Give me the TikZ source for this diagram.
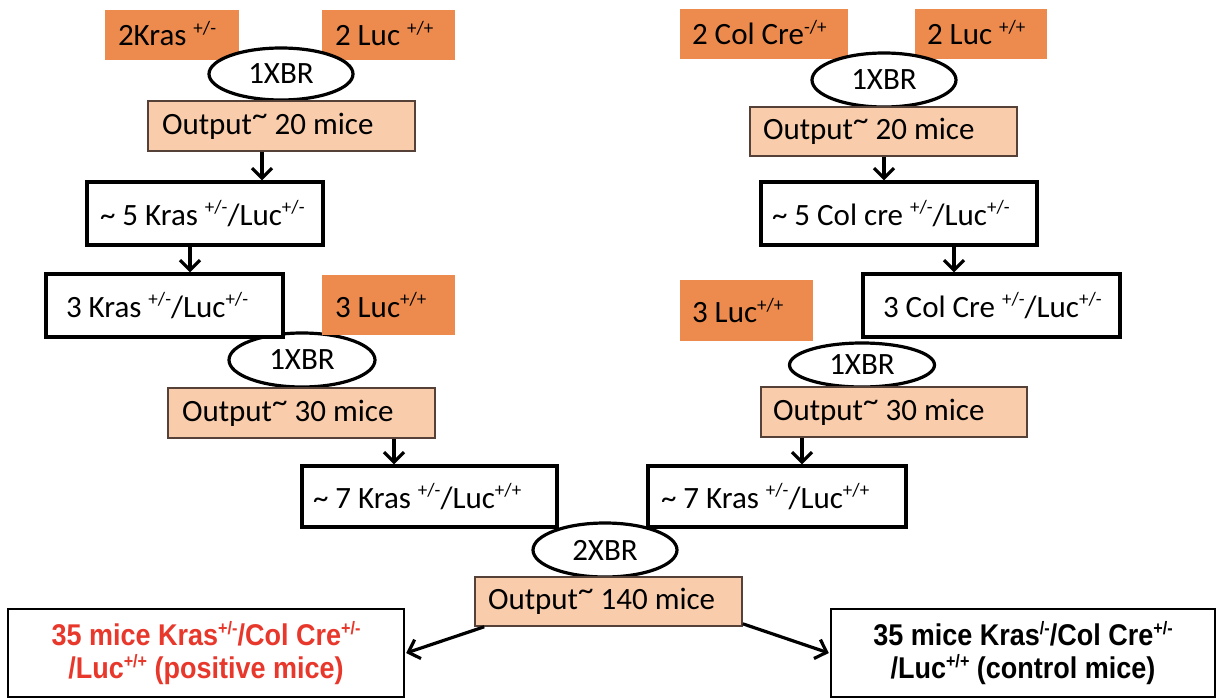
\documentclass[tikz,border=0pt]{standalone}
\usepackage{fontspec}
\setmainfont{Carlito}
\newfontfamily\arb[FakeStretch=0.9]{Liberation Sans}
\usetikzlibrary{arrows.meta,shapes.geometric}
\definecolor{orgD}{RGB}{237,139,78}
\definecolor{orgL}{RGB}{249,204,172}
\definecolor{outB}{RGB}{85,65,55}
\definecolor{redT}{RGB}{232,56,44}
\newcommand\supr[1]{\raisebox{0.36em}{\fontsize{19}{19}\selectfont #1}}
\newcommand\supb[1]{\raisebox{0.38em}{\fontsize{18}{18}\selectfont #1}}
\newcommand\tld{\raisebox{0.28em}{\textasciitilde}}
\newcommand\lbx[2]{\makebox[#1][l]{#2}}
\begin{document}
\begin{tikzpicture}[x=1pt,y=-1pt,
  font=\fontsize{31}{36}\selectfont,
  dark/.style={rectangle, fill=orgD, draw=none, inner ysep=0pt},
  light/.style={rectangle, fill=orgL, draw=outB, line width=1.6pt, inner ysep=0pt},
  wbox/.style={rectangle, fill=white, draw=black, line width=3.2pt, inner ysep=0pt},
  xbr/.style={ellipse, draw=black, fill=white, line width=3.2pt, inner sep=0pt},
  fbox/.style={rectangle, fill=white, draw=black, line width=2.4pt, align=center,
     font=\arb\bfseries\fontsize{30}{33}\selectfont},
  arr/.style={line width=3.2pt, -{Straight Barb[length=10pt,width=20pt]}}]
\fill[white] (0,0) rectangle (1216,698);
\useasboundingbox (0,0) rectangle (1216,698);

% ---------- left branch ----------
\node[dark, minimum width=134pt, minimum height=50pt, inner xsep=13pt] (kr2) at (172,35) {\lbx{108pt}{\raisebox{3pt}{2Kras \supr{+/-}}}};
\node[dark, minimum width=133pt, minimum height=50pt, inner xsep=13pt] (lu2L) at (388.5,35) {\lbx{107pt}{\raisebox{3pt}{2 Luc \supr{+/+}}}};
\node[xbr, minimum width=144pt, minimum height=52pt] (e1L) at (281,74) {1XBR};
\node[light, minimum width=267pt, minimum height=50pt, inner xsep=14pt] (o1L) at (281.5,126) {\lbx{239pt}{Output\tld{} 20 mice}};
\node[wbox, minimum width=236pt, minimum height=63pt, inner xsep=13pt] (k5) at (205,213.5) {\lbx{210pt}{\textasciitilde{} 5 Kras \supr{+/-}/Luc\supr{+/-}}};
\node[xbr, minimum width=146pt, minimum height=54pt] (e2L) at (302,360) {1XBR};
\node[wbox, minimum width=237pt, minimum height=63pt, inner xsep=20pt] (k3) at (164.5,305.5) {\lbx{197pt}{3 Kras \supr{+/-}/Luc\supr{+/-}}};
\node[dark, minimum width=133pt, minimum height=60pt, inner xsep=13pt] (lu3L) at (388.5,305) {\lbx{107pt}{3 Luc\supr{+/+}}};
\node[light, minimum width=267pt, minimum height=50pt, inner xsep=14pt] (o2L) at (301.5,413) {\lbx{239pt}{Output\tld{} 30 mice}};
\node[wbox, minimum width=255pt, minimum height=61pt, inner xsep=11pt] (k7L) at (429.5,496.5) {\lbx{233pt}{\textasciitilde{} 7 Kras \supr{+/-}/Luc\supr{+/+}}};

% ---------- right branch ----------
\node[dark, minimum width=168pt, minimum height=50pt, inner xsep=12pt] (cc2) at (764,34) {\lbx{144pt}{\raisebox{3pt}{2 Col Cre\supr{-/+}}}};
\node[dark, minimum width=132pt, minimum height=50pt, inner xsep=12pt] (lu2R) at (981,34) {\lbx{108pt}{\raisebox{3pt}{2 Luc \supr{+/+}}}};
\node[xbr, minimum width=144pt, minimum height=54pt] (e1R) at (884,80) {1XBR};
\node[light, minimum width=267pt, minimum height=49pt, inner xsep=13pt] (o1R) at (883.5,131.5) {\lbx{241pt}{Output\tld{} 20 mice}};
\node[wbox, minimum width=276pt, minimum height=63pt, inner xsep=11pt] (c5) at (899,213.5) {\lbx{254pt}{\textasciitilde{} 5 Col cre \supr{+/-}/Luc\supr{+/-}}};
\node[wbox, minimum width=257pt, minimum height=63pt, inner xsep=20pt] (c3) at (991.5,305.5) {\lbx{217pt}{3 Col Cre \supr{+/-}/Luc\supr{+/-}}};
\node[dark, minimum width=133pt, minimum height=61pt, inner xsep=12pt] (lu3R) at (746.5,310.5) {\lbx{109pt}{3 Luc\supr{+/+}}};
\node[xbr, minimum width=145pt, minimum height=44pt] (e2R) at (862,365) {1XBR};
\node[light, minimum width=266pt, minimum height=50pt, inner xsep=12pt] (o2R) at (894,412) {\lbx{242pt}{Output\tld{} 30 mice}};
\node[wbox, minimum width=258pt, minimum height=61pt, inner xsep=13pt] (k7R) at (777,496.5) {\lbx{232pt}{\textasciitilde{} 7 Kras \supr{+/-}/Luc\supr{+/+}}};

% ---------- merge ----------
\node[xbr, minimum width=144pt, minimum height=54pt] (e3) at (605,550) {2XBR};
\node[light, minimum width=267pt, minimum height=49pt, inner xsep=13pt] (o3) at (608.5,601.5) {\lbx{241pt}{Output\tld{} 140 mice}};
\node[fbox, text=redT, minimum width=396pt, minimum height=88pt] (pos) at (206,653) {35 mice Kras\supb{+/-}/Col Cre\supb{+/-}\\/Luc\supb{+/+} (positive mice)};
\node[fbox, text=black, minimum width=384pt, minimum height=88pt] (ctl) at (1023,653) {35 mice Kras\supb{/-}/Col Cre\supb{+/-}\\/Luc\supb{+/+} (control mice)};

% ---------- connectors ----------
\coordinate (xa) at (262,0);
\coordinate (xb) at (190,0);
\coordinate (xc) at (394,0);
\coordinate (xd) at (884,0);
\coordinate (xe) at (954,0);
\coordinate (xf) at (802,0);
\draw[arr] (o1L.south -| xa) -- (k5.north -| xa);
\draw[arr] (k5.south -| xb) -- (k3.north -| xb);
\draw[arr] (o2L.south -| xc) -- (k7L.north -| xc);
\draw[arr] (o1R.south -| xd) -- (c5.north -| xd);
\draw[arr] (c5.south -| xe) -- (c3.north -| xe);
\draw[arr] (o2R.south -| xf) -- (k7R.north -| xf);
\draw[arr] ([xshift=10pt]o3.south west) -- ([xshift=1pt]pos.east);
\draw[arr] ([yshift=3pt]o3.south east) -- ([xshift=-1pt]ctl.west);
\end{tikzpicture}
\end{document}
